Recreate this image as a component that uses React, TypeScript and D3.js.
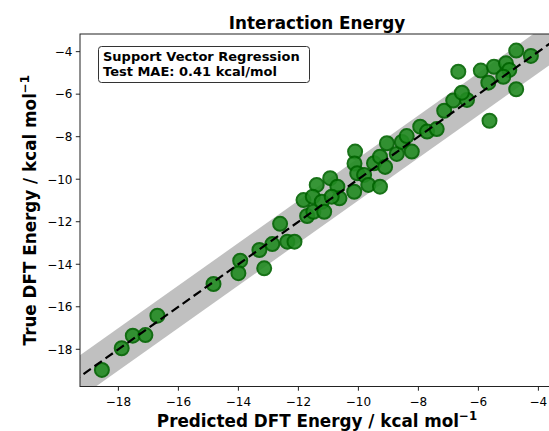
import React, { useEffect, useRef } from "react";
import * as d3 from "d3";

// predicted vs. true interaction energies (kcal/mol)
const predicted = [
  -18.55, -17.89, -17.52, -17.1, -16.7, -14.83, -13.94, -14.0, -13.3, -13.14,
  -12.87, -12.61, -12.37, -12.13, -11.71, -11.83, -11.5, -11.39, -11.52, -11.22,
  -11.14, -10.94, -10.7, -10.63, -10.89, -10.11, -10.13, -10.04, -10.14, -9.81,
  -9.67, -9.48, -9.28, -9.28, -9.11, -9.05, -8.72, -8.55, -8.39, -8.22,
  -7.94, -7.71, -7.39, -7.14, -6.84, -6.38, -6.55, -6.67, -5.92, -5.48,
  -5.08, -4.97, -5.17, -5.67, -4.74, -4.25, -4.74, -5.63,
];
const trueEnergy = [
  -18.97, -17.95, -17.36, -17.33, -16.42, -14.93, -13.83, -14.42, -13.33, -14.19,
  -13.05, -12.1, -12.94, -12.94, -11.73, -10.98, -11.53, -10.27, -10.82, -11.06,
  -11.53, -9.95, -10.35, -10.9, -10.82, -8.7, -9.26, -9.72, -10.59, -9.8,
  -10.27, -9.25, -8.94, -10.35, -9.42, -8.31, -8.81, -8.25, -7.97, -8.7,
  -7.53, -7.76, -7.64, -6.78, -6.3, -6.27, -5.93, -4.94, -4.89, -4.71,
  -4.55, -4.86, -5.18, -5.46, -3.95, -4.2, -5.77, -7.25,
];
const xTicks = [-18, -16, -14, -12, -10, -8, -6, -4];
const yTicks = [-18, -16, -14, -12, -10, -8, -6, -4];
const bandWidth = [1];
const legendLines = ["Support Vector Regression", "Test MAE: 0.41 kcal/mol"];
const title = "Interaction Energy";

const W = 549;
const H = 431;
const FONT = "DejaVu Sans";

const App = () => {
  const ref = useRef<SVGSVGElement | null>(null);

  useEffect(() => {
    const svg = d3.select(ref.current);
    svg.selectAll("*").remove();

    const left = 80, right = 554, top = 34, bottom = 386.5;
    const x = d3.scaleLinear().domain([-19.28, -3.48]).range([left, right]);
    const y = d3.scaleLinear().domain([-19.75, -3.17]).range([bottom, top]);

    svg
      .append("defs")
      .append("clipPath")
      .attr("id", "plot-clip")
      .append("rect")
      .attr("x", left)
      .attr("y", top)
      .attr("width", right - left)
      .attr("height", bottom - top);

    const plot = svg.append("g").attr("clip-path", "url(#plot-clip)");

    // +/- 1 kcal/mol band
    const ends = [-21, -2];
    const w = bandWidth[0];
    plot
      .append("path")
      .datum(ends)
      .attr("fill", "#c0c0c0")
      .attr(
        "d",
        d3
          .area<number>()
          .x((d) => x(d))
          .y0((d) => y(d - w))
          .y1((d) => y(d + w))
      );

    // points
    plot
      .selectAll("circle")
      .data(predicted.map((p, i) => [p, trueEnergy[i]]))
      .join("circle")
      .attr("cx", (d) => x(d[0]))
      .attr("cy", (d) => y(d[1]))
      .attr("r", 7)
      .attr("fill", "#228B22")
      .attr("stroke", "#006400")
      .attr("stroke-width", 2)
      .attr("opacity", 0.9);

    // y = x parity line
    plot
      .append("path")
      .datum(ends)
      .attr("fill", "none")
      .attr("stroke", "#000")
      .attr("stroke-width", 2.2)
      .attr("stroke-dasharray", "9,4.5")
      .attr(
        "d",
        d3
          .line<number>()
          .x((d) => x(d))
          .y((d) => y(d))
      );

    // spines
    svg
      .append("rect")
      .attr("x", left)
      .attr("y", top)
      .attr("width", right - left)
      .attr("height", bottom - top)
      .attr("fill", "none")
      .attr("stroke", "#222")
      .attr("stroke-width", 1);

    // ticks
    const xt = svg.append("g");
    xTicks.forEach((t) => {
      xt.append("line")
        .attr("x1", x(t))
        .attr("x2", x(t))
        .attr("y1", bottom)
        .attr("y2", bottom + 4.2)
        .attr("stroke", "#222");
      xt.append("text")
        .attr("x", x(t))
        .attr("y", bottom + 19)
        .attr("text-anchor", "middle")
        .attr("font-family", FONT)
        .attr("font-size", 12)
        .text(d3.format("")(t).replace("-", "\u2212"));
    });
    const yt = svg.append("g");
    yTicks.forEach((t) => {
      yt.append("line")
        .attr("x1", left - 4.2)
        .attr("x2", left)
        .attr("y1", y(t))
        .attr("y2", y(t))
        .attr("stroke", "#222");
      yt.append("text")
        .attr("x", left - 7.5)
        .attr("y", y(t) + 4.3)
        .attr("text-anchor", "end")
        .attr("font-family", FONT)
        .attr("font-size", 12)
        .text(String(t).replace("-", "\u2212"));
    });

    // title
    svg
      .append("text")
      .attr("x", (left + right) / 2)
      .attr("y", 28.5)
      .attr("text-anchor", "middle")
      .attr("font-family", FONT)
      .attr("font-weight", "bold")
      .attr("font-size", 16.8)
      .text(title);

    // axis labels
    const xl = svg
      .append("text")
      .attr("x", (left + right) / 2)
      .attr("y", 427)
      .attr("text-anchor", "middle")
      .attr("font-family", FONT)
      .attr("font-weight", "bold")
      .attr("font-size", 16.8);
    xl.append("tspan").text("Predicted DFT Energy / kcal mol");
    xl.append("tspan").attr("dy", -7).attr("font-size", 11.8).text("\u22121");

    const yl = svg
      .append("text")
      .attr("transform", `translate(36, ${(top + bottom) / 2}) rotate(-90)`)
      .attr("text-anchor", "middle")
      .attr("font-family", FONT)
      .attr("font-weight", "bold")
      .attr("font-size", 16.8);
    yl.append("tspan").text("True DFT Energy / kcal mol");
    yl.append("tspan").attr("dy", -7).attr("font-size", 11.8).text("\u22121");

    // text box
    svg
      .append("rect")
      .attr("x", 98.5)
      .attr("y", 46.5)
      .attr("width", 211)
      .attr("height", 36)
      .attr("rx", 3)
      .attr("fill", "#fff")
      .attr("stroke", "#333")
      .attr("stroke-width", 1);
    legendLines.forEach((s, i) => {
      svg
        .append("text")
        .attr("x", 103)
        .attr("y", 60.5 + i * 15)
        .attr("font-family", FONT)
        .attr("font-weight", "bold")
        .attr("font-size", 13)
        .text(s);
    });
  }, []);

  return <svg ref={ref} width={W} height={H} style={{ display: "block", position: "absolute", left: 0, top: 0 }} />;
};

export default App;
